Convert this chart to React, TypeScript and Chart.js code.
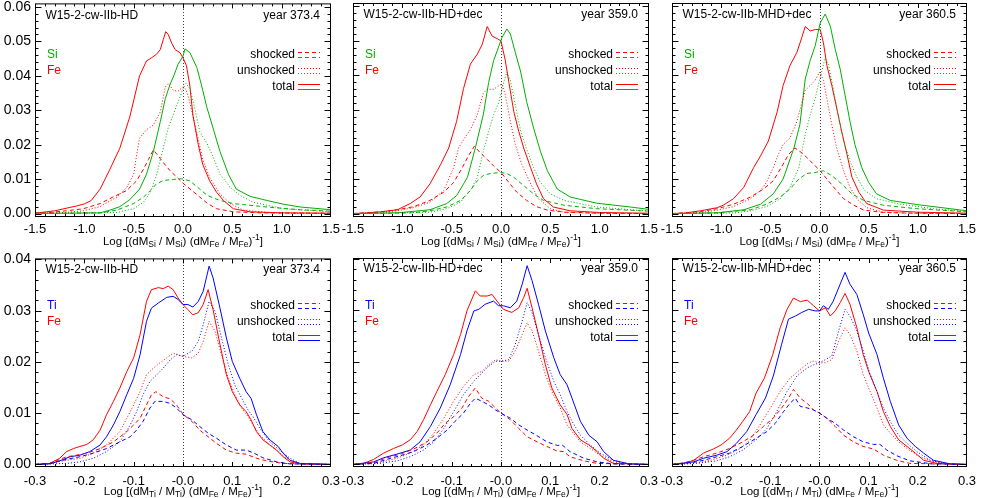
import React, { useEffect, useRef } from "react";
import { Chart, registerables } from "chart.js";
Chart.register(...registerables);

const FONT = "'Liberation Sans', Arial, Helvetica, sans-serif";
const RED = "rgb(255,0,0)";
const GREEN = "rgb(0,175,0)";
const BLUE = "rgb(0,0,255)";

// ---------- tick values / labels ----------
const TOP_X_TICKS = [-1.5, -1.0, -0.5, 0.0, 0.5, 1.0, 1.5];
const TOP_X_LABELS = ["-1.5", "-1.0", "-0.5", "0.0", "0.5", "1.0", "1.5"];
const TOP_Y_TICKS = [0, 0.01, 0.02, 0.03, 0.04, 0.05, 0.06];
const TOP_Y_LABELS = ["0.00", "0.01", "0.02", "0.03", "0.04", "0.05", "0.06"];
const BOT_X_TICKS = [-0.3, -0.2, -0.1, 0.0, 0.1, 0.2, 0.3];
const BOT_X_LABELS = ["-0.3", "-0.2", "-0.1", "-0.0", "0.1", "0.2", "0.3"];
const BOT_Y_TICKS = [0, 0.01, 0.02, 0.03, 0.04];
const BOT_Y_LABELS = ["0.00", "0.01", "0.02", "0.03", "0.04"];

const MODELS = ["W15-2-cw-IIb-HD", "W15-2-cw-IIb-HD+dec", "W15-2-cw-IIb-MHD+dec"];
const YEARS = ["year 373.4", "year 359.0", "year 360.5"];
const LEGEND_LABELS = ["shocked", "unshocked", "total"];

// ---------- top row: Si vs Fe ----------
const SI_HD_SHOCKED = [[-1.5,0],[-0.84,0.0002],[-0.67,0.001],[-0.5,0.0029],[-0.4,0.0048],[-0.33,0.0067],[-0.27,0.0086],[-0.2,0.0096],[-0.1,0.0099],[-0.015,0.0101],[0.07,0.0095],[0.17,0.0071],[0.25,0.0052],[0.375,0.0038],[0.51,0.0029],[0.85,0.0019],[1.19,0.0011],[1.5,0.0007]];
const SI_HD_UNSHOCKED = [[-1.5,0],[-0.67,0.0003],[-0.5,0.0014],[-0.4,0.0033],[-0.33,0.0062],[-0.27,0.011],[-0.2,0.019],[-0.15,0.0248],[-0.1,0.0286],[-0.05,0.0324],[0,0.0362],[0.03,0.0378],[0.07,0.0362],[0.12,0.0305],[0.17,0.0238],[0.24,0.0205],[0.31,0.0162],[0.375,0.0114],[0.48,0.0076],[0.58,0.0052],[0.71,0.0033],[1.02,0.0014],[1.5,0.0005]];
const SI_HD_TOTAL = [[-1.5,0.0001],[-1.2,0.0001],[-0.84,0.0002],[-0.74,0.001],[-0.64,0.002],[-0.54,0.004],[-0.44,0.0071],[-0.37,0.0114],[-0.3,0.018],[-0.23,0.0267],[-0.18,0.0333],[-0.13,0.0376],[-0.1,0.0395],[-0.05,0.0433],[0,0.0457],[0.02,0.0478],[0.07,0.0467],[0.14,0.0424],[0.19,0.037],[0.24,0.031],[0.31,0.0243],[0.375,0.018],[0.46,0.0114],[0.54,0.0071],[0.68,0.005],[0.85,0.0038],[1.02,0.0027],[1.19,0.0019],[1.5,0.0011]];
const FE_HD_SHOCKED = [[-1.5,0.0001],[-1.4,0.0002],[-1.18,0.0008],[-1.01,0.0014],[-0.84,0.0029],[-0.71,0.0048],[-0.57,0.0067],[-0.47,0.0095],[-0.4,0.0129],[-0.35,0.0157],[-0.3,0.0185],[-0.25,0.0167],[-0.2,0.0148],[-0.13,0.0124],[-0.06,0.0105],[0,0.0088],[0.09,0.0067],[0.17,0.0048],[0.25,0.0029],[0.34,0.0014],[0.51,0.0005],[0.8,0.0002],[1.5,0.0001]];
const FE_HD_UNSHOCKED = [[-1.5,0],[-1.2,0.0003],[-1.01,0.0008],[-0.84,0.002],[-0.67,0.0048],[-0.57,0.0076],[-0.5,0.0114],[-0.47,0.017],[-0.44,0.0219],[-0.37,0.0243],[-0.3,0.0257],[-0.23,0.0295],[-0.18,0.0367],[-0.15,0.0378],[-0.1,0.0358],[-0.05,0.0355],[0,0.0368],[0.03,0.036],[0.055,0.0338],[0.1,0.0286],[0.155,0.0214],[0.2,0.0157],[0.27,0.0105],[0.375,0.0057],[0.48,0.0029],[0.61,0.001],[0.9,0.0002],[1.5,0]];
const FE_HD_TOTAL = [[-1.5,0.0001],[-1.3,0.0008],[-1.08,0.0022],[-1.0,0.0028],[-0.93,0.0038],[-0.84,0.0071],[-0.74,0.0129],[-0.64,0.019],[-0.54,0.028],[-0.44,0.04],[-0.37,0.0443],[-0.32,0.0452],[-0.27,0.0462],[-0.23,0.0476],[-0.2,0.0505],[-0.175,0.0528],[-0.15,0.052],[-0.115,0.0495],[-0.08,0.0476],[-0.03,0.0467],[0,0.0452],[0.035,0.0429],[0.07,0.037],[0.1,0.0286],[0.155,0.02],[0.2,0.0143],[0.27,0.0095],[0.34,0.0062],[0.41,0.0038],[0.51,0.0014],[0.68,0.0005],[1.0,0.0002],[1.5,0.0001]];

const SI_DEC_SHOCKED = [[-1.5,0],[-0.9,0.0002],[-0.72,0.0008],[-0.55,0.0019],[-0.41,0.0038],[-0.31,0.0067],[-0.24,0.0095],[-0.18,0.011],[-0.11,0.0116],[0,0.0119],[0.06,0.0116],[0.13,0.0105],[0.23,0.0081],[0.33,0.0057],[0.43,0.0038],[0.64,0.0024],[0.97,0.0014],[1.5,0.0007]];
const SI_DEC_UNSHOCKED = [[-1.5,0],[-0.72,0.0004],[-0.55,0.0014],[-0.41,0.0033],[-0.31,0.0067],[-0.24,0.0105],[-0.18,0.018],[-0.125,0.0238],[-0.075,0.0286],[-0.02,0.0324],[0.027,0.038],[0.06,0.041],[0.095,0.0386],[0.145,0.0314],[0.2,0.0238],[0.26,0.0186],[0.33,0.0133],[0.4,0.009],[0.5,0.0057],[0.64,0.0038],[0.97,0.0019],[1.5,0.0007]];
const SI_DEC_TOTAL = [[-1.5,0],[-1.05,0.0002],[-0.72,0.0011],[-0.55,0.0029],[-0.45,0.0052],[-0.34,0.0105],[-0.26,0.019],[-0.18,0.0286],[-0.125,0.038],[-0.075,0.0443],[-0.02,0.0486],[0.01,0.051],[0.06,0.0535],[0.095,0.052],[0.145,0.0467],[0.2,0.041],[0.26,0.0324],[0.33,0.0248],[0.4,0.018],[0.47,0.0124],[0.57,0.0071],[0.7,0.0048],[0.97,0.003],[1.31,0.0019],[1.5,0.0012]];
const FE_DEC_SHOCKED = [[-1.5,0],[-1.22,0.0005],[-1.05,0.0011],[-0.885,0.002],[-0.72,0.0038],[-0.58,0.0062],[-0.48,0.009],[-0.4,0.0129],[-0.33,0.0167],[-0.27,0.0195],[-0.21,0.0176],[-0.14,0.0157],[-0.075,0.0138],[0,0.0119],[0.08,0.009],[0.16,0.0062],[0.26,0.0038],[0.36,0.002],[0.47,0.001],[0.64,0.0004],[1.0,0.0001],[1.5,0]];
const FE_DEC_UNSHOCKED = [[-1.5,0],[-1.22,0.0003],[-1.05,0.0008],[-0.885,0.0017],[-0.72,0.0033],[-0.58,0.0067],[-0.48,0.0133],[-0.43,0.019],[-0.38,0.0214],[-0.31,0.0243],[-0.24,0.0286],[-0.18,0.0348],[-0.14,0.036],[-0.075,0.036],[-0.02,0.0371],[0.01,0.0375],[0.044,0.0343],[0.095,0.0267],[0.145,0.02],[0.21,0.0143],[0.3,0.0086],[0.38,0.0043],[0.5,0.0014],[0.64,0.0004],[1.0,0],[1.5,0]];
const FE_DEC_TOTAL = [[-1.5,0],[-1.39,0.0001],[-1.22,0.0005],[-1.05,0.0011],[-0.92,0.0029],[-0.82,0.0048],[-0.72,0.0086],[-0.61,0.0143],[-0.53,0.019],[-0.45,0.0267],[-0.38,0.0362],[-0.31,0.0433],[-0.24,0.0462],[-0.19,0.049],[-0.14,0.0542],[-0.09,0.0514],[-0.04,0.0507],[0,0.05],[0.044,0.0443],[0.08,0.038],[0.13,0.0295],[0.18,0.0238],[0.23,0.019],[0.3,0.0133],[0.36,0.0086],[0.43,0.0043],[0.53,0.0019],[0.7,0.0008],[1.0,0.0003],[1.5,0.0001]];

const SI_MHD_SHOCKED = [[-1.5,0],[-1.04,0.0002],[-0.7,0.0011],[-0.54,0.0027],[-0.4,0.0048],[-0.3,0.0071],[-0.21,0.01],[-0.13,0.0116],[-0.044,0.0119],[0.04,0.0124],[0.125,0.011],[0.225,0.0086],[0.33,0.0057],[0.45,0.0038],[0.65,0.0024],[0.99,0.0014],[1.5,0.0005]];
const SI_MHD_UNSHOCKED = [[-1.5,0],[-0.85,0.0002],[-0.7,0.0008],[-0.54,0.002],[-0.4,0.0043],[-0.3,0.0076],[-0.21,0.0133],[-0.145,0.0229],[-0.095,0.0286],[-0.044,0.0333],[0.007,0.0395],[0.058,0.045],[0.09,0.0433],[0.14,0.0362],[0.19,0.0286],[0.245,0.021],[0.31,0.0152],[0.38,0.0105],[0.46,0.0067],[0.58,0.0043],[0.82,0.0027],[1.16,0.0014],[1.5,0.0006]];
const SI_MHD_TOTAL = [[-1.5,0],[-1.04,0.0002],[-0.77,0.0011],[-0.6,0.0027],[-0.47,0.0057],[-0.37,0.01],[-0.26,0.019],[-0.2,0.0257],[-0.145,0.039],[-0.095,0.0443],[-0.044,0.0486],[0.007,0.0552],[0.058,0.0578],[0.11,0.0543],[0.16,0.0476],[0.21,0.0419],[0.26,0.0343],[0.31,0.0267],[0.36,0.02],[0.43,0.0133],[0.5,0.009],[0.58,0.0057],[0.72,0.0038],[0.99,0.0026],[1.33,0.0014],[1.5,0.0008]];
const FE_MHD_SHOCKED = [[-1.5,0],[-1.38,0.0002],[-1.21,0.0006],[-1.04,0.0014],[-0.875,0.0027],[-0.7,0.0048],[-0.57,0.0071],[-0.47,0.0095],[-0.38,0.0138],[-0.315,0.0171],[-0.25,0.019],[-0.18,0.0176],[-0.11,0.0157],[-0.044,0.0138],[0.007,0.0124],[0.075,0.01],[0.16,0.0071],[0.245,0.0043],[0.35,0.0024],[0.45,0.001],[0.65,0.0003],[1.0,0.0001],[1.5,0]];
const FE_MHD_UNSHOCKED = [[-1.5,0],[-1.21,0.0003],[-1.04,0.001],[-0.875,0.002],[-0.7,0.0043],[-0.6,0.0067],[-0.54,0.009],[-0.47,0.0133],[-0.42,0.0171],[-0.37,0.02],[-0.3,0.0219],[-0.23,0.0267],[-0.145,0.0357],[-0.095,0.0371],[-0.044,0.0386],[0,0.041],[0.04,0.0386],[0.075,0.0333],[0.125,0.0257],[0.175,0.019],[0.245,0.0124],[0.31,0.0076],[0.38,0.0043],[0.48,0.0017],[0.65,0.0004],[1.0,0],[1.5,0]];
const FE_MHD_TOTAL = [[-1.5,0],[-1.38,0.0001],[-1.21,0.0008],[-1.04,0.0017],[-0.98,0.0024],[-0.875,0.0043],[-0.77,0.0076],[-0.67,0.0133],[-0.6,0.0167],[-0.52,0.021],[-0.43,0.0295],[-0.37,0.0371],[-0.3,0.0429],[-0.23,0.0467],[-0.18,0.051],[-0.145,0.0542],[-0.095,0.0529],[-0.044,0.0533],[0.007,0.0533],[0.04,0.0495],[0.075,0.0429],[0.125,0.0371],[0.175,0.0305],[0.225,0.0238],[0.28,0.0171],[0.33,0.0105],[0.4,0.0062],[0.48,0.0029],[0.65,0.001],[0.99,0.0004],[1.5,0.0001]];

// ---------- bottom row: Ti vs Fe ----------
const TI_HD_SHOCKED = [[-0.3,0],[-0.27,0.0002],[-0.236,0.001],[-0.209,0.0015],[-0.182,0.0022],[-0.155,0.0031],[-0.128,0.0044],[-0.107,0.0054],[-0.094,0.0067],[-0.081,0.0084],[-0.067,0.011],[-0.057,0.0123],[-0.04,0.0123],[-0.026,0.0119],[-0.013,0.011],[0,0.0097],[0.018,0.0087],[0.034,0.0074],[0.051,0.0061],[0.068,0.0051],[0.088,0.0038],[0.108,0.0028],[0.128,0.0028],[0.142,0.0023],[0.162,0.0013],[0.19,0.0005],[0.217,0.0001],[0.3,0]];
const TI_HD_UNSHOCKED = [[-0.3,0],[-0.236,0.0002],[-0.209,0.0005],[-0.182,0.0012],[-0.155,0.0025],[-0.128,0.0044],[-0.107,0.0077],[-0.094,0.0103],[-0.081,0.0136],[-0.067,0.0162],[-0.053,0.0175],[-0.04,0.0188],[-0.026,0.0204],[-0.013,0.0214],[0,0.0211],[0.018,0.0221],[0.031,0.024],[0.041,0.0273],[0.053,0.0318],[0.065,0.0299],[0.078,0.0247],[0.092,0.0194],[0.105,0.0155],[0.119,0.0129],[0.132,0.0106],[0.142,0.0093],[0.156,0.007],[0.176,0.0044],[0.196,0.0028],[0.217,0.0012],[0.237,0.0002],[0.3,0]];
const TI_HD_TOTAL = [[-0.3,0],[-0.27,0.0001],[-0.25,0.0007],[-0.229,0.0015],[-0.209,0.0018],[-0.189,0.0025],[-0.168,0.0038],[-0.155,0.0054],[-0.141,0.0077],[-0.128,0.0103],[-0.114,0.0136],[-0.1,0.0168],[-0.087,0.0214],[-0.074,0.0279],[-0.064,0.0305],[-0.05,0.0315],[-0.033,0.0326],[-0.02,0.0328],[-0.01,0.0322],[0,0.0312],[0.01,0.0312],[0.02,0.0307],[0.031,0.0318],[0.041,0.0338],[0.053,0.0387],[0.061,0.0364],[0.075,0.0305],[0.088,0.0247],[0.1,0.0201],[0.115,0.0168],[0.128,0.0142],[0.138,0.0129],[0.149,0.0097],[0.162,0.0064],[0.176,0.0048],[0.193,0.0035],[0.203,0.0022],[0.217,0.0008],[0.237,0.0002],[0.3,0]];
const FETI_HD_SHOCKED = [[-0.3,0],[-0.27,0.0002],[-0.236,0.0015],[-0.222,0.0017],[-0.195,0.0022],[-0.168,0.0031],[-0.141,0.0044],[-0.114,0.0064],[-0.1,0.0077],[-0.087,0.009],[-0.074,0.0116],[-0.064,0.0136],[-0.055,0.0142],[-0.04,0.0132],[-0.026,0.0128],[-0.013,0.0116],[0,0.0098],[0.018,0.0084],[0.034,0.0067],[0.051,0.0054],[0.068,0.0041],[0.088,0.0028],[0.108,0.0022],[0.128,0.002],[0.149,0.0012],[0.169,0.0007],[0.203,0.0002],[0.3,0]];
const FETI_HD_UNSHOCKED = [[-0.3,0],[-0.27,0.0002],[-0.236,0.0008],[-0.209,0.0012],[-0.182,0.0022],[-0.155,0.0038],[-0.128,0.0064],[-0.114,0.009],[-0.1,0.0116],[-0.087,0.0142],[-0.074,0.0175],[-0.06,0.0188],[-0.047,0.0198],[-0.033,0.0208],[-0.02,0.0217],[-0.01,0.0214],[0,0.0211],[0.018,0.0208],[0.031,0.0217],[0.041,0.024],[0.053,0.0279],[0.065,0.026],[0.078,0.0214],[0.092,0.0168],[0.105,0.0136],[0.119,0.011],[0.132,0.0093],[0.142,0.0077],[0.156,0.0057],[0.176,0.0038],[0.196,0.0022],[0.217,0.0008],[0.237,0.0002],[0.3,0]];
const FETI_HD_TOTAL = [[-0.3,0],[-0.27,0.0002],[-0.25,0.0012],[-0.236,0.0025],[-0.222,0.0031],[-0.209,0.0035],[-0.195,0.0039],[-0.182,0.0048],[-0.168,0.0067],[-0.155,0.0097],[-0.141,0.0123],[-0.128,0.0149],[-0.114,0.0181],[-0.1,0.0208],[-0.087,0.0253],[-0.074,0.0318],[-0.064,0.0341],[-0.05,0.0345],[-0.04,0.0343],[-0.03,0.0348],[-0.02,0.0341],[-0.01,0.0325],[0,0.0312],[0.01,0.0302],[0.02,0.0292],[0.031,0.0296],[0.041,0.0312],[0.051,0.0341],[0.061,0.0302],[0.075,0.0234],[0.088,0.0175],[0.1,0.0142],[0.115,0.0116],[0.128,0.0103],[0.138,0.0087],[0.149,0.0064],[0.162,0.0048],[0.176,0.0038],[0.19,0.0028],[0.203,0.0015],[0.217,0.0005],[0.237,0.0001],[0.3,0]];

const TI_DEC_SHOCKED = [[-0.3,0],[-0.258,0.0002],[-0.231,0.001],[-0.204,0.0017],[-0.177,0.0025],[-0.15,0.0038],[-0.13,0.0051],[-0.109,0.0067],[-0.093,0.0084],[-0.076,0.01],[-0.062,0.0119],[-0.052,0.0129],[-0.039,0.0123],[-0.025,0.0116],[-0.011,0.0106],[0,0.01],[0.019,0.009],[0.036,0.0077],[0.053,0.0067],[0.073,0.0056],[0.093,0.0044],[0.114,0.0037],[0.124,0.0038],[0.14,0.0025],[0.168,0.0012],[0.195,0.0005],[0.228,0.0001],[0.3,0]];
const TI_DEC_UNSHOCKED = [[-0.3,0],[-0.245,0.0002],[-0.211,0.0007],[-0.184,0.0015],[-0.157,0.0028],[-0.136,0.0044],[-0.116,0.007],[-0.096,0.0103],[-0.076,0.0136],[-0.055,0.0162],[-0.039,0.0178],[-0.025,0.0191],[-0.011,0.0201],[0,0.0201],[0.016,0.0204],[0.029,0.0234],[0.043,0.0279],[0.053,0.0315],[0.063,0.0296],[0.076,0.0253],[0.09,0.0208],[0.107,0.0162],[0.12,0.0136],[0.134,0.0103],[0.144,0.0084],[0.161,0.0057],[0.181,0.0038],[0.201,0.0022],[0.228,0.0008],[0.26,0.0001],[0.3,0]];
const TI_DEC_TOTAL = [[-0.3,0],[-0.258,0.0005],[-0.238,0.0013],[-0.211,0.002],[-0.184,0.0028],[-0.164,0.0044],[-0.143,0.0074],[-0.123,0.011],[-0.103,0.0155],[-0.082,0.0214],[-0.069,0.026],[-0.055,0.0299],[-0.045,0.0302],[-0.032,0.0312],[-0.015,0.0318],[-0.005,0.0309],[0.005,0.0309],[0.019,0.0305],[0.032,0.0318],[0.043,0.0351],[0.053,0.0387],[0.063,0.0358],[0.076,0.0312],[0.09,0.026],[0.107,0.0208],[0.12,0.0175],[0.134,0.0155],[0.144,0.0129],[0.161,0.0084],[0.178,0.0057],[0.195,0.0044],[0.208,0.0025],[0.228,0.0008],[0.26,0.0001],[0.3,0]];
const FETI_DEC_SHOCKED = [[-0.3,0],[-0.258,0.0004],[-0.231,0.0013],[-0.204,0.002],[-0.177,0.003],[-0.15,0.0044],[-0.13,0.0061],[-0.113,0.008],[-0.096,0.0093],[-0.079,0.011],[-0.066,0.0132],[-0.052,0.0149],[-0.039,0.0129],[-0.025,0.0123],[-0.011,0.011],[0,0.01],[0.019,0.0087],[0.036,0.007],[0.053,0.0054],[0.073,0.0044],[0.093,0.0035],[0.114,0.0026],[0.127,0.0025],[0.14,0.0015],[0.168,0.0007],[0.195,0.0002],[0.3,0]];
const FETI_DEC_UNSHOCKED = [[-0.3,0],[-0.245,0.0004],[-0.211,0.0012],[-0.184,0.0022],[-0.157,0.0038],[-0.136,0.0061],[-0.116,0.009],[-0.096,0.0123],[-0.076,0.0152],[-0.055,0.0175],[-0.039,0.0181],[-0.025,0.0194],[-0.011,0.0204],[0,0.0201],[0.016,0.0201],[0.029,0.0221],[0.043,0.0253],[0.053,0.0276],[0.063,0.026],[0.076,0.0221],[0.09,0.0175],[0.103,0.0142],[0.12,0.011],[0.134,0.0077],[0.144,0.0064],[0.161,0.0044],[0.181,0.0031],[0.201,0.0018],[0.228,0.0005],[0.26,0.0001],[0.3,0]];
const FETI_DEC_TOTAL = [[-0.3,0],[-0.278,0.0002],[-0.258,0.001],[-0.238,0.0022],[-0.218,0.0031],[-0.2,0.0038],[-0.184,0.0048],[-0.17,0.0064],[-0.157,0.0087],[-0.143,0.0116],[-0.13,0.0142],[-0.113,0.0175],[-0.096,0.0214],[-0.082,0.0253],[-0.069,0.0299],[-0.052,0.0338],[-0.042,0.0328],[-0.028,0.0328],[-0.018,0.0331],[-0.008,0.0318],[0.005,0.0302],[0.022,0.0296],[0.036,0.0305],[0.046,0.0325],[0.053,0.0343],[0.063,0.0305],[0.076,0.0253],[0.09,0.0194],[0.103,0.0149],[0.12,0.0116],[0.134,0.0097],[0.144,0.007],[0.161,0.0048],[0.178,0.0038],[0.195,0.0025],[0.208,0.0012],[0.228,0.0002],[0.3,0]];

const TI_MHD_SHOCKED = [[-0.3,0],[-0.256,0.0004],[-0.236,0.0008],[-0.209,0.0015],[-0.183,0.0022],[-0.156,0.0035],[-0.129,0.0051],[-0.107,0.0064],[-0.09,0.008],[-0.073,0.0103],[-0.06,0.0119],[-0.049,0.0129],[-0.039,0.0113],[-0.025,0.011],[-0.012,0.0106],[0,0.01],[0.015,0.009],[0.032,0.008],[0.049,0.0067],[0.069,0.0054],[0.089,0.0044],[0.11,0.0039],[0.123,0.0039],[0.137,0.0028],[0.157,0.0017],[0.184,0.0007],[0.23,0.0001],[0.3,0]];
const TI_MHD_UNSHOCKED = [[-0.3,0],[-0.25,0.0002],[-0.209,0.0007],[-0.183,0.0015],[-0.156,0.0028],[-0.129,0.0048],[-0.107,0.007],[-0.087,0.0103],[-0.066,0.0142],[-0.046,0.0172],[-0.025,0.0188],[-0.012,0.0194],[0,0.0198],[0.012,0.0204],[0.025,0.0211],[0.039,0.026],[0.052,0.0302],[0.062,0.0289],[0.076,0.026],[0.089,0.0221],[0.103,0.0175],[0.117,0.0142],[0.13,0.011],[0.144,0.0084],[0.161,0.0057],[0.178,0.0041],[0.198,0.0025],[0.225,0.0008],[0.26,0.0001],[0.3,0]];
const TI_MHD_TOTAL = [[-0.3,0],[-0.256,0.0005],[-0.236,0.0012],[-0.209,0.0018],[-0.188,0.0025],[-0.169,0.0041],[-0.148,0.0064],[-0.129,0.0097],[-0.11,0.0129],[-0.094,0.0172],[-0.077,0.0234],[-0.063,0.0283],[-0.049,0.0289],[-0.036,0.0296],[-0.022,0.0302],[-0.009,0.0299],[0,0.0299],[0.008,0.0309],[0.018,0.0302],[0.028,0.0318],[0.042,0.0351],[0.052,0.0374],[0.062,0.0351],[0.076,0.0331],[0.089,0.0292],[0.1,0.0256],[0.117,0.0214],[0.13,0.0168],[0.144,0.0123],[0.161,0.0077],[0.178,0.0051],[0.195,0.0035],[0.212,0.0022],[0.232,0.0008],[0.266,0.0001],[0.3,0]];
const FETI_MHD_SHOCKED = [[-0.3,0],[-0.276,0.0003],[-0.256,0.0008],[-0.236,0.0015],[-0.209,0.0022],[-0.183,0.0031],[-0.156,0.0044],[-0.134,0.0057],[-0.114,0.0074],[-0.094,0.009],[-0.077,0.011],[-0.063,0.0129],[-0.053,0.0146],[-0.039,0.0129],[-0.025,0.0119],[-0.012,0.0106],[0,0.01],[0.015,0.009],[0.032,0.0074],[0.049,0.0057],[0.069,0.0044],[0.089,0.0035],[0.11,0.003],[0.13,0.0018],[0.157,0.0008],[0.184,0.0002],[0.3,0]];
const FETI_MHD_UNSHOCKED = [[-0.3,0],[-0.256,0.0002],[-0.222,0.0008],[-0.188,0.0018],[-0.161,0.0031],[-0.141,0.0048],[-0.121,0.0077],[-0.1,0.011],[-0.08,0.0142],[-0.06,0.0168],[-0.039,0.0185],[-0.022,0.0198],[-0.012,0.0201],[0,0.0198],[0.012,0.0198],[0.025,0.0204],[0.039,0.024],[0.052,0.0266],[0.062,0.0253],[0.076,0.0221],[0.089,0.0175],[0.103,0.0142],[0.117,0.011],[0.13,0.0077],[0.144,0.0061],[0.161,0.0044],[0.178,0.0031],[0.198,0.0018],[0.225,0.0007],[0.26,0.0001],[0.3,0]];
const FETI_MHD_TOTAL = [[-0.3,0],[-0.276,0.0002],[-0.256,0.0008],[-0.236,0.0022],[-0.216,0.003],[-0.2,0.0038],[-0.183,0.0051],[-0.169,0.0067],[-0.156,0.0084],[-0.142,0.0103],[-0.129,0.0139],[-0.112,0.0168],[-0.095,0.0214],[-0.08,0.0266],[-0.066,0.0302],[-0.053,0.0324],[-0.039,0.0317],[-0.025,0.032],[-0.012,0.0309],[0,0.0299],[0.012,0.0305],[0.022,0.0289],[0.032,0.0299],[0.042,0.0315],[0.052,0.0333],[0.062,0.0312],[0.076,0.0266],[0.089,0.0214],[0.1,0.0181],[0.117,0.0142],[0.13,0.0103],[0.144,0.0074],[0.161,0.0048],[0.178,0.0035],[0.195,0.0022],[0.212,0.0008],[0.239,0.0002],[0.3,0]];

// ---------- layout (page pixels) ----------
const COL_LEFT = [35, 353, 672];
const COL_W = [296, 296, 295];
const ROW_TOP = [3, 258];
const ROW_H = [214, 209];
const PAD_L = 40; // y axis width 35 + padding 5
const PAD_T = 12;
const PAD_R = 16;
const X_AXIS_H = 34;

type Series = number[][];
type PanelCfg = {
  row: number;
  col: number;
  el: string;
  elColor: string;
  fe: Series[];
  other: Series[];
};

const PANELS: PanelCfg[] = [
  { row: 0, col: 0, el: "Si", elColor: GREEN, fe: [FE_HD_SHOCKED, FE_HD_UNSHOCKED, FE_HD_TOTAL], other: [SI_HD_SHOCKED, SI_HD_UNSHOCKED, SI_HD_TOTAL] },
  { row: 0, col: 1, el: "Si", elColor: GREEN, fe: [FE_DEC_SHOCKED, FE_DEC_UNSHOCKED, FE_DEC_TOTAL], other: [SI_DEC_SHOCKED, SI_DEC_UNSHOCKED, SI_DEC_TOTAL] },
  { row: 0, col: 2, el: "Si", elColor: GREEN, fe: [FE_MHD_SHOCKED, FE_MHD_UNSHOCKED, FE_MHD_TOTAL], other: [SI_MHD_SHOCKED, SI_MHD_UNSHOCKED, SI_MHD_TOTAL] },
  { row: 1, col: 0, el: "Ti", elColor: BLUE, fe: [FETI_HD_SHOCKED, FETI_HD_UNSHOCKED, FETI_HD_TOTAL], other: [TI_HD_SHOCKED, TI_HD_UNSHOCKED, TI_HD_TOTAL] },
  { row: 1, col: 1, el: "Ti", elColor: BLUE, fe: [FETI_DEC_SHOCKED, FETI_DEC_UNSHOCKED, FETI_DEC_TOTAL], other: [TI_DEC_SHOCKED, TI_DEC_UNSHOCKED, TI_DEC_TOTAL] },
  { row: 1, col: 2, el: "Ti", elColor: BLUE, fe: [FETI_MHD_SHOCKED, FETI_MHD_UNSHOCKED, FETI_MHD_TOTAL], other: [TI_MHD_SHOCKED, TI_MHD_UNSHOCKED, TI_MHD_TOTAL] },
];

const DASHES = [[4, 3], [1, 2], []];

function drawAxisTitle(ctx: CanvasRenderingContext2D, cx: number, cy: number, el: string) {
  const big = `11.5px ${FONT}`;
  const small = `8.5px ${FONT}`;
  const parts: [string, string][] = [
    ["Log [(dM", "n"], [el, "s"], [" / M", "n"], [el, "s"], [") (dM", "n"], ["Fe", "s"],
    [" / M", "n"], ["Fe", "s"], [")", "n"], ["-1", "p"], ["]", "n"],
  ];
  let total = 0;
  const widths = parts.map(([t, k]) => {
    ctx.font = k === "n" ? big : small;
    const w = ctx.measureText(t).width;
    total += w;
    return w;
  });
  let x = cx - total / 2;
  ctx.fillStyle = "#000";
  ctx.textAlign = "left";
  ctx.textBaseline = "middle";
  parts.forEach(([t, k], i) => {
    ctx.font = k === "n" ? big : small;
    const dy = k === "s" ? 3 : k === "p" ? -4.5 : 0;
    ctx.fillText(t, x, cy + dy);
    x += widths[i];
  });
}

function makePlugin(cfg: PanelCfg) {
  return {
    id: "idlFrame",
    beforeDatasetsDraw(chart: any) {
      const { ctx, chartArea: a, scales } = chart;
      const x0 = Math.round(scales.x.getPixelForValue(0)) + 0.5;
      ctx.save();
      ctx.strokeStyle = "rgba(0,0,0,0.75)";
      ctx.lineWidth = 1;
      ctx.setLineDash([1, 2]);
      ctx.beginPath();
      ctx.moveTo(x0, a.bottom);
      ctx.lineTo(x0, a.top);
      ctx.stroke();
      ctx.restore();
    },
    afterDraw(chart: any) {
      const { ctx, chartArea: a, scales } = chart;
      const xs = scales.x;
      const ys = scales.y;
      const top = cfg.row === 0;
      const xMajor = top ? TOP_X_TICKS : BOT_X_TICKS;
      const yMajor = top ? TOP_Y_TICKS : BOT_Y_TICKS;
      const xStep = xMajor[1] - xMajor[0];
      const yStep = yMajor[1] - yMajor[0];
      ctx.save();
      ctx.strokeStyle = "#000";
      ctx.lineWidth = 1;
      ctx.setLineDash([]);
      const L = a.left + 0.5, R = a.right - 0.5, T = a.top + 0.5, B = a.bottom - 0.5;
      ctx.strokeRect(L, T, R - L, B - T);
      ctx.beginPath();
      for (let i = 0; i < xMajor.length - 1; i++) {
        for (let k = 0; k < 5; k++) {
          const v = xMajor[i] + (k * xStep) / 5;
          const px = Math.round(xs.getPixelForValue(v)) + 0.5;
          const len = k === 0 ? 4.5 : 2.5;
          ctx.moveTo(px, B); ctx.lineTo(px, B - len);
          ctx.moveTo(px, T); ctx.lineTo(px, T + len);
        }
      }
      for (let i = 0; i < yMajor.length; i++) {
        for (let k = 0; k < 5; k++) {
          const v = yMajor[i] + (k * yStep) / 5;
          if (v > ys.max) continue;
          const py = Math.round(ys.getPixelForValue(v)) + 0.5;
          const len = k === 0 ? 6 : 3;
          ctx.moveTo(L, py); ctx.lineTo(L + len, py);
          ctx.moveTo(R, py); ctx.lineTo(R - len, py);
        }
      }
      ctx.stroke();

      const off = top ? [12, 51.5, 67.5, 83.5] : [11, 47.5, 63.5, 79.5];
      ctx.font = `12px ${FONT}`;
      ctx.textBaseline = "middle";
      ctx.fillStyle = "#000";
      ctx.textAlign = "left";
      ctx.fillText(MODELS[cfg.col], a.left + 10.5, a.top + off[0]);
      ctx.textAlign = "right";
      ctx.fillText(YEARS[cfg.col], a.right - 11, a.top + off[0]);
      ctx.textAlign = "left";
      ctx.fillStyle = cfg.elColor;
      ctx.fillText(cfg.el, a.left + 12, a.top + off[1]);
      ctx.fillStyle = RED;
      ctx.fillText("Fe", a.left + 12, a.top + off[2]);
      for (let i = 0; i < 3; i++) {
        const cy = a.top + off[i + 1];
        ctx.fillStyle = "#000";
        ctx.textAlign = "right";
        ctx.fillText(LEGEND_LABELS[i], a.right - 36, cy);
        ctx.setLineDash(DASHES[i]);
        ctx.lineWidth = 1;
        ctx.strokeStyle = RED;
        ctx.beginPath();
        ctx.moveTo(a.right - 33, Math.round(cy - 3) + 0.5);
        ctx.lineTo(a.right - 11, Math.round(cy - 3) + 0.5);
        ctx.stroke();
        ctx.strokeStyle = cfg.elColor;
        ctx.beginPath();
        ctx.moveTo(a.right - 33, Math.round(cy + 2) + 0.5);
        ctx.lineTo(a.right - 11, Math.round(cy + 2) + 0.5);
        ctx.stroke();
      }
      ctx.setLineDash([]);
      drawAxisTitle(ctx, (a.left + a.right) / 2, a.bottom + 25, cfg.el);
      ctx.restore();
    },
  };
}

function Panel({ cfg }: { cfg: PanelCfg }) {
  const ref = useRef<HTMLCanvasElement>(null);
  const w = COL_W[cfg.col] + PAD_L + PAD_R;
  const h = ROW_H[cfg.row] + PAD_T + X_AXIS_H;
  const left = COL_LEFT[cfg.col] - PAD_L;
  const topPx = ROW_TOP[cfg.row] - PAD_T;

  useEffect(() => {
    const isTop = cfg.row === 0;
    const xTicks = isTop ? TOP_X_TICKS : BOT_X_TICKS;
    const xLabels = isTop ? TOP_X_LABELS : BOT_X_LABELS;
    const yTicks = isTop ? TOP_Y_TICKS : BOT_Y_TICKS;
    const yLabels = isTop ? TOP_Y_LABELS : BOT_Y_LABELS;
    const datasets: any[] = [];
    for (let i = 0; i < 3; i++) {
      datasets.push({
        data: cfg.other[i], borderColor: cfg.elColor, borderWidth: 1, borderDash: DASHES[i],
        pointRadius: 0, tension: 0, fill: false,
      });
      datasets.push({
        data: cfg.fe[i], borderColor: RED, borderWidth: 1, borderDash: DASHES[i],
        pointRadius: 0, tension: 0, fill: false,
      });
    }
    const chart = new Chart(ref.current as HTMLCanvasElement, {
      type: "line",
      data: { datasets },
      plugins: [makePlugin(cfg)],
      options: {
        responsive: false,
        animation: false,
        events: [],
        layout: { padding: { left: 5, top: PAD_T, right: PAD_R, bottom: 0 } },
        plugins: { legend: { display: false }, tooltip: { enabled: false }, title: { display: false } },
        scales: {
          x: {
            type: "linear",
            min: isTop ? -1.5 : -0.3,
            max: isTop ? 1.5 : 0.3,
            afterBuildTicks: (ax: any) => { ax.ticks = xTicks.map((v) => ({ value: v })); },
            afterFit: (ax: any) => { ax.height = X_AXIS_H; },
            grid: { display: false, drawTicks: false },
            border: { display: false },
            ticks: {
              font: { family: FONT, size: 13 }, color: "#000", padding: isTop ? 5 : 7, maxRotation: 0, autoSkip: false,
              callback: (_v: any, i: number) => xLabels[i],
            },
          },
          y: {
            type: "linear",
            min: isTop ? -0.001 : -0.0005,
            max: isTop ? 0.061 : 0.0402,
            afterBuildTicks: (ax: any) => { ax.ticks = yTicks.map((v) => ({ value: v })); },
            afterFit: (ax: any) => { ax.width = 35; },
            grid: { display: false, drawTicks: false },
            border: { display: false },
            ticks: {
              display: cfg.col === 0,
              font: { family: FONT, size: 14 }, color: "#000", padding: 4, autoSkip: false,
              callback: (_v: any, i: number) => yLabels[i],
            },
          },
        },
      } as any,
    });
    return () => chart.destroy();
  }, []);

  return (
    <canvas
      ref={ref}
      width={w}
      height={h}
      style={{ position: "absolute", left, top: topPx, width: w, height: h }}
    />
  );
}

export default function App() {
  return (
    <div style={{ position: "absolute", left: 0, top: 0, width: 981, height: 498, overflow: "hidden", background: "#fff" }}>
      {PANELS.map((p, i) => (
        <Panel key={i} cfg={p} />
      ))}
    </div>
  );
}
